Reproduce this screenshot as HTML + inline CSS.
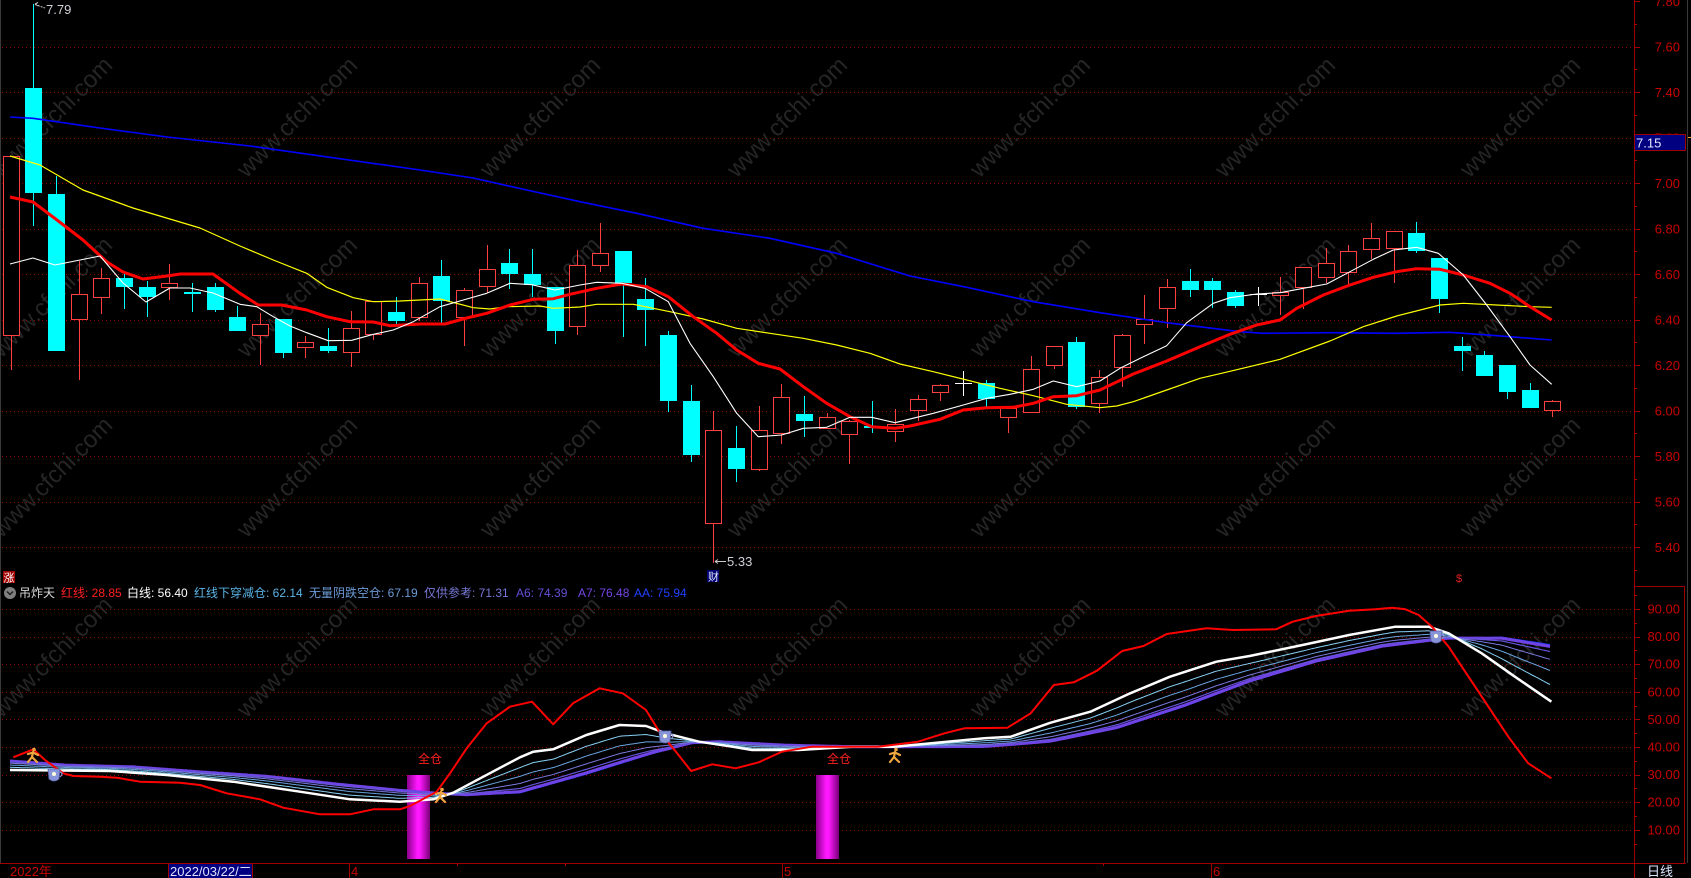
<!DOCTYPE html>
<html><head><meta charset="utf-8">
<style>
html,body{margin:0;padding:0;background:#000;width:1691px;height:878px;overflow:hidden}
svg{display:block}
text{font-family:"Liberation Sans","Noto Sans CJK SC",sans-serif}
</style></head><body>
<svg id="c" xmlns="http://www.w3.org/2000/svg" width="1691" height="878" viewBox="0 0 1691 878">
<defs>
<linearGradient id="mg" x1="0" x2="1" y1="0" y2="0">
<stop offset="0" stop-color="#8a008a"/><stop offset="0.45" stop-color="#ff18ff"/><stop offset="0.55" stop-color="#ff18ff"/><stop offset="1" stop-color="#780078"/>
</linearGradient>
</defs>
<rect width="1691" height="878" fill="#000"/>
<g id="wm"></g>
<g id="grid"></g>
<g id="cand"></g>
<g id="ma" fill="none" stroke-linejoin="round">
<polyline stroke="#0000ff" stroke-width="1.6" points="10,117 33,118.3 100,128 167,137 250,146 420,170 473,178 526.7,190 580,201.7 636.7,213.3 703.3,228.3 770,238.3 836.7,253.3 910,276 966.7,287.3 1033.3,301.7 1100,312.7 1166.7,322.7 1240,331.7 1263.3,333.3 1330,332.7 1396.7,333.3 1450,332.3 1496.7,335.7 1530,338.3 1551.7,340"/>
<polyline stroke="#ffff00" stroke-width="1.2" points="10,156 40,165 83,190 133,208 200,228 240,246 273.3,260 306.7,273.3 326.7,287.3 353.3,297.7 373.3,301.7 400,301 440,299 473.3,307.7 490,309 506.7,306.7 540,306 553.3,308.3 580,307 596.7,304.3 633.3,304.3 670,311.7 703.3,319 736.7,328.3 770,333.3 803.3,338.3 836.7,345 870,353.3 900,364 933.3,371.7 966.7,380 1000,388.3 1033.3,395.7 1066.7,404.3 1100,407.7 1116.7,406 1133.3,401.7 1166.7,390 1200,378.3 1230,371.3 1280,359.3 1330,341 1363.3,326.7 1396.7,316 1440,305 1463.3,303.3 1496.7,305 1530,306.7 1551.7,307.3"/>
<polyline stroke="#ff0000" stroke-width="3" points="10,197 33,202 57,220 83,240 107,262 123,272 143,279 167,276 180,274 213,274 240,293.3 258.3,305 281.7,305 306.7,310 326.7,316.7 350,321.7 373.3,322 390,325.7 420,324 445,324 466.7,318 486.7,313.3 510,305 533.3,299.3 553.3,298.7 570,294.3 596.7,288.3 621.7,284 646.7,286.7 668.3,296.7 693.3,316.7 716.7,333.3 736.7,350 758.3,363.3 780,369 803.3,386.7 826.7,403.3 850,416.7 871.7,426.7 895,428.3 910,426 940,419.3 963.3,410 986.7,407.7 1013.3,407.3 1033.3,403.3 1053.3,396.7 1076.7,395.7 1100,390 1133.3,374 1166.7,361 1200,346.7 1230,334.3 1256.7,325 1280,320 1296.7,308.3 1323.3,295 1350,285 1373.3,277.3 1396.7,271.7 1416.7,268.7 1440,269.3 1463.3,275 1490,283.3 1510,293.3 1530,306.7 1551.7,320"/>
<polyline stroke="#ffffff" stroke-width="1.1" points="10,264 33,258 55,265 80,260 100,256 123,283 146,302 170,288 190,288 213,293 240,304.3 256.7,306.7 273.3,316.7 290,326 306.7,332.7 328.3,340.7 351.7,340.3 373.3,334.3 393.3,330 413.3,321.7 440,306.7 463.3,300 486.7,293.3 510,283.3 531.7,284.7 555,290 580,285 596.7,282.3 621.7,283.3 645,288.3 668.3,301.7 690,343.3 713.3,376.7 736.7,413.3 758.3,436.7 781.7,435 803.3,428.3 826.7,427.3 850,417.3 871.7,417.3 895,422.7 933.3,413.3 963.3,405 986.7,398.3 1010,394.3 1033.3,389.3 1053.3,381 1076.7,386.7 1100,381 1120,368.3 1143.3,356.7 1166.7,345.7 1186.7,322.7 1213.3,303.3 1230,297.7 1256.7,294 1280,292.7 1303.3,288.3 1326.7,284 1350,271.7 1373.3,259.3 1393.3,250 1416.7,247.3 1438.3,253.3 1463.3,275 1486.7,305 1510,336.7 1530,365 1551.7,384.3"/>
</g>
<!-- price annotations -->
<line x1="35" y1="4.5" x2="45" y2="8" stroke="#c8c8c8" stroke-width="1" stroke-dasharray="2 1"/>
<path d="M35,4 l3,-1.5 M35,4 l3,2" stroke="#c8c8c8" stroke-width="1" fill="none"/>
<text x="46" y="14" font-size="13" fill="#d0d0d8">7.79</text>
<line x1="715" y1="561.5" x2="726" y2="561.5" stroke="#c8c8c8" stroke-width="1"/>
<path d="M715,561.5 l3,-2 M715,561.5 l3,2" stroke="#c8c8c8" stroke-width="1" fill="none"/>
<text x="727" y="566" font-size="13" fill="#d0d0d8">5.33</text>
<rect x="707" y="570" width="12" height="12" fill="#000070"/>
<text x="708" y="580.5" font-size="11" fill="#e0e8ff">财</text>
<text x="1456" y="582" font-size="11" fill="#e02020">$</text>
<rect x="3" y="571" width="12" height="12" fill="#a00000"/>
<text x="3.5" y="581.5" font-size="11" fill="#ffffff">涨</text>

<!-- indicator title -->
<circle cx="10" cy="593" r="6" fill="#808080"/>
<path d="M7,591.5 L10,594.5 L13,591.5" stroke="#202020" stroke-width="1.5" fill="none"/>
<g font-size="12">
<text x="19" y="597" fill="#d8d8d8">吊炸天</text>
<text x="61" y="597" fill="#ff2020">红线: 28.85</text>
<text x="127" y="597" fill="#ffffff">白线: 56.40</text>
<text x="194" y="597" fill="#5ab4e6">红线下穿减仓: 62.14</text>
<text x="309" y="597" fill="#6a9ad6">无量阴跌空仓: 67.19</text>
<text x="424" y="597" fill="#7878d8">仅供参考: 71.31</text>
<text x="516" y="597" fill="#6450d8">A6: 74.39</text>
<text x="578" y="597" fill="#7446e6">A7: 76.48</text>
<text x="634" y="597" fill="#2040ff">AA: 75.94</text>
</g>

<!-- magenta bars -->
<rect x="407" y="775" width="23" height="84" fill="url(#mg)"/>
<rect x="816" y="775" width="23" height="84" fill="url(#mg)"/>
<g id="ind" fill="none" stroke-linejoin="round"></g>
<g id="icons"></g>
<g font-size="12" fill="#ff2020">
<text x="418" y="763">全仓</text>
<text x="827" y="763">全仓</text>
</g>

<!-- axes -->
<line x1="1634.5" y1="0" x2="1634.5" y2="878" stroke="#a00000" stroke-width="1"/>
<line x1="1687.5" y1="0" x2="1687.5" y2="863" stroke="#3a3a3a" stroke-width="1"/>
<line x1="0.5" y1="0" x2="0.5" y2="863" stroke="#3a3a3a" stroke-width="1"/>
<line x1="0" y1="863.5" x2="1686" y2="863.5" stroke="#a00000" stroke-width="1"/>
<rect x="1634.5" y="586.5" width="50" height="277" fill="none" stroke="#a00000" stroke-width="1"/>
<g id="axis"></g>
<rect x="1634.5" y="134.5" width="51" height="16" fill="#000080" stroke="#a00000" stroke-width="1"/>
<text x="1636" y="147.5" font-size="13" fill="#e8e8ff">7.15</text>
<line x1="1688" y1="137.5" x2="1691" y2="137.5" stroke="#f0a030" stroke-width="1"/>

<!-- date axis -->
<g font-size="13" fill="#c80000">
<text x="10" y="876">2022年</text>
<text x="351" y="876">4</text>
<text x="784" y="876">5</text>
<text x="1213" y="876">6</text>
</g>
<g stroke="#a00000" stroke-width="1">
<line x1="349.5" y1="863" x2="349.5" y2="878"/>
<line x1="782.5" y1="863" x2="782.5" y2="878"/>
<line x1="1211.5" y1="863" x2="1211.5" y2="878"/>
<line x1="457.5" y1="863" x2="457.5" y2="866"/>
<line x1="565.5" y1="863" x2="565.5" y2="866"/>
<line x1="1103.5" y1="863" x2="1103.5" y2="866"/>
</g>
<rect x="168.5" y="863.5" width="84" height="15" fill="#000080" stroke="#a00000" stroke-width="1"/>
<text x="170" y="876" font-size="13" fill="#e0e0ff">2022/03/22/二</text>
<text x="1647" y="876" font-size="13" fill="#d8e4ff">日线</text>
</svg>
<script>
(function(){
const S=document.getElementById('c');
const NS='http://www.w3.org/2000/svg';
function E(t,a,p){const e=document.createElementNS(NS,t);for(const k in a)e.setAttribute(k,a[k]);(p||S).appendChild(e);return e;}
function T(x,y,s,a,p){const e=E('text',Object.assign({x:x,y:y},a),p);e.textContent=s;return e;}

// watermark
const wm=document.getElementById('wm');
[52,297,540,787,1030,1275,1520].forEach(cx=>[117,297,477,657].forEach(cy=>{
  T(cx,cy+8,'www.cfchi.com',{'font-size':24,fill:'#252525','text-anchor':'middle',transform:'rotate(-45 '+cx+' '+cy+')'},wm);
}));

// grid
const g=document.getElementById('grid');
for(let i=1;i<=12;i++){const y=Math.round(1+i*45.5)+0.5;E('line',{x1:2,y1:y,x2:1633,y2:y,stroke:'#8b0000','stroke-width':1,'stroke-dasharray':'1 3'},g);}
for(let v=90;v>=10;v-=10){const y=Math.round(609+(90-v)*2.76)+0.5;E('line',{x1:2,y1:y,x2:1633,y2:y,stroke:'#8b0000','stroke-width':1,'stroke-dasharray':'1 3'},g);}

// axis ticks & labels
const ax=document.getElementById('axis');
for(let i=0;i<=25;i++){const y=1+i*22.75;if(y>580)break;const yy=Math.round(y)+0.5;
  E('line',{x1:1634,y1:yy,x2:i%2==0?1640:1637,y2:yy,stroke:'#a00000','stroke-width':1},ax);
  if(i%2==0){const p=(7.8-i*0.1);T(1680,y+5,p.toFixed(2),{'font-size':13,fill:'#c80000','text-anchor':'end'},ax);}
}
for(let v=95;v>=5;v-=5){const y=609+(90-v)*2.76;if(y<588)continue;const yy=Math.round(y)+0.5;
  E('line',{x1:1634,y1:yy,x2:v%10==0?1640:1637,y2:yy,stroke:'#a00000','stroke-width':1},ax);
  if(v%10==0)T(1680,y+4.5,v.toFixed(2),{'font-size':13,fill:'#c80000','text-anchor':'end'},ax);
}

// candles
const C=[
['R',156,335,156,370],['C',88,193,4,225.7],['C',194,350.7,175.7,350.7],['R',294,319,261,380],['R',278,297,268,314],
['C',278,287,273,309],['C',287,297,281,317],['R',283,287,264,300],['C',292,294,283,312],['C',287,310,283,312],
['C',317,330.7,306,330.7],['R',324,335,312.7,365],['C',319,353,319,357.7],['R',342,346.7,335.7,357.7],['C',346,351,327.7,352.7],
['R',328.3,351.7,311,366.7],['R',301,333.7,301,340],['C',312,320.7,297,325],['R',283.3,317.3,277,320.7],['C',276,300.7,260,322.7],
['R',290.3,317.3,288,345.7],['R',269.3,285.7,245,293.3],['C',263,273.7,249,289.3],['C',274,284.7,249,297.3],['C',287.3,330.7,287.3,343.7],
['R',265.3,326.3,250,334.7],['R',253.3,265.3,222.7,271.7],['C',251,283.3,251,336.7],['C',299,309.7,278,345.7],['C',335,400.7,331,411.7],
['C',400.7,455,385,461.7],['R',430.3,523.3,411,563],['C',448,468.7,426,481.7],['R',430.3,469.3,406,471],['R',396.7,433.3,384,444],
['C',414,420.7,396,436.7],['R',417.3,428.3,413.3,428.3],['R',421,433.7,420,464],['C',426,427.7,401,432.7],['R',424.3,430.7,409.3,441.7],
['R',399.3,410.3,395,420.7],['R',385.3,392.3,384,400.7],['W',382.7,382.7,371,396],['C',383.3,399,380,406.7],['R',407.7,417.3,407.7,432.7],
['R',369.3,412.3,356,412],['R',346.3,365.3,346.3,369],['C',342,407.3,336.7,409.3],['R',376.7,403.3,370,413.3],['R',335.3,367.3,334,386.7],
['R',319.3,324.3,295,343.7],['R',287.3,308.3,279,327.7],['C',281,289.7,269,296.7],['C',281,289.7,278,307.7],['C',292.3,305.7,290,307.7],
['W',294,294,287.3,305.7],['R',292.3,294.7,277.3,314.7],['R',267.3,287.3,267.3,309.3],['R',263.3,276.7,248,283.3],['R',251.3,272.3,245.3,285],
['R',238.3,249.3,223,259.3],['R',231.3,247.7,231.3,282.7],['C',233,250.7,222,252.7],['C',258,298.7,258,312.7],['C',346,351,337,370.7],
['C',355,375.7,351,375.7],['C',365,391.7,365,399],['C',390,407.7,382.7,407.7],['R',401,410.3,399.7,416.7]
];
const cg=document.getElementById('cand');
C.forEach((d,i)=>{
  const cx=10.7+i*22.67;const xl=Math.round(cx-8);const xc=xl+8.5;
  const t=Math.round(d[1]),b=Math.round(d[2]),h=Math.round(d[3]),l=Math.round(d[4]);
  if(d[0]=='C'){
    if(l>h)E('line',{x1:xc,y1:h,x2:xc,y2:l,stroke:'#00ffff','stroke-width':1},cg);
    E('rect',{x:xl,y:t,width:17,height:Math.max(b-t,2),fill:'#00ffff'},cg);
  }else if(d[0]=='R'){
    const col='#ff4040';
    if(h<t)E('line',{x1:xc,y1:h,x2:xc,y2:t,stroke:col,'stroke-width':1},cg);
    if(l>b)E('line',{x1:xc,y1:b,x2:xc,y2:l,stroke:col,'stroke-width':1},cg);
    E('rect',{x:xl+0.5,y:t+0.5,width:16,height:Math.max(b-t,2),fill:'#000',stroke:col,'stroke-width':1},cg);
  }else{
    E('line',{x1:xc,y1:h,x2:xc,y2:l,stroke:'#ffffff','stroke-width':1},cg);
    E('line',{x1:xl,y1:t+0.5,x2:xl+17,y2:t+0.5,stroke:'#ffffff','stroke-width':1},cg);
  }
});

// indicator
const R=[[13.3,757.3],[33.3,749.3],[45,760],[63.3,773.3],[73.3,776],[100,776.7],[116.7,777.7],[140,781.7],[180,782.7],[200,785],[226.7,793.3],[260,799.3],[283.3,807.7],[320,814.3],[350,814.3],[373.3,809.3],[400,809.3],[410,806],[436.7,791.7],[450,773.3],[466.7,748.3],[486.7,723.3],[510,706.7],[532,701.7],[553.2,724.3],[573,703.3],[599.6,688.3],[622.8,693.3],[646,710],[659.3,731.7],[675.9,751.7],[691.1,771],[712.3,764.3],[735.6,768.3],[758.8,762.3],[782,751.7],[811.8,746.7],[838.4,746.7],[878.2,746.7],[918,741.7],[944.5,733.3],[964.4,728.3],[1007.5,727.7],[1030.7,713.3],[1053.9,685],[1073.8,682.3],[1097,670.7],[1122.2,651],[1143.5,646],[1166.7,634],[1206.5,628.3],[1233,630],[1276.1,629.3],[1292.7,621.7],[1315.9,616],[1349.1,610.7],[1375.6,609.3],[1392.2,607.7],[1405.4,609.3],[1418.7,615],[1432,626.7],[1448.6,646.7],[1468.5,676.7],[1488.4,706.7],[1508.3,736.7],[1528.2,763.3],[1551.4,778.3]];
const W=[[10,770],[110,771],[166.7,775],[233.3,781.7],[300,791.7],[350,799.3],[400,801.7],[433.3,799.3],[453.3,792.7],[483.3,776.7],[520,757.3],[533.3,751.7],[553.2,749.3],[586.3,735],[619.5,725],[646,726],[665.9,733.3],[699.1,741.7],[732.2,746.7],[752.1,750],[798.6,750],[851.6,746.7],[894.7,746.7],[931.2,743.3],[984.3,738.3],[1010.8,736.7],[1050.6,722.7],[1090.4,711.7],[1130.2,693.3],[1170,676.7],[1216.4,661.7],[1249.6,656],[1302.6,645],[1349.1,635],[1395.5,626.7],[1428.7,626.7],[1448.6,633.3],[1481.7,653.3],[1514.9,676.7],[1551.4,701.7]];
const B=[[10,760.7],[66.7,765],[133.3,766.7],[200,771.7],[266.7,776],[333.3,783.3],[400,790],[440,793.3],[466.7,795],[520,792.7],[586.3,774],[652.7,753.3],[692.4,742.7],[719,741.7],[785.3,745],[851.6,746.7],[984.3,746.7],[1050.6,741.7],[1116.9,728.3],[1183.3,706.7],[1249.6,681.7],[1315.9,661.7],[1382.2,646.7],[1448.6,638.3],[1501.6,637.3],[1551.4,645]];
function ip(P,x){if(x<=P[0][0])return P[0][1];for(let i=1;i<P.length;i++){if(x<=P[i][0]){const a=P[i-1],b=P[i];return a[1]+(b[1]-a[1])*(x-a[0])/(b[0]-a[0]);}}return P[P.length-1][1];}
const ind=document.getElementById('ind');
function fan(f){let s='';for(let x=10;x<=1551;x+=2){const w=ip(W,x),b=ip(B,x);s+=x+','+(w+(b-w)*f).toFixed(1)+' ';}return s;}
E('polyline',{points:fan(1.0),stroke:'#2038ff','stroke-width':1.5},ind);
E('polyline',{points:fan(0.97),stroke:'#7044e4','stroke-width':3},ind);
E('polyline',{points:fan(0.88),stroke:'#6454d8','stroke-width':1.2},ind);
E('polyline',{points:fan(0.74),stroke:'#7a7ade','stroke-width':1},ind);
E('polyline',{points:fan(0.54),stroke:'#6aa4e0','stroke-width':1},ind);
E('polyline',{points:fan(0.29),stroke:'#88d0f4','stroke-width':1},ind);
E('polyline',{points:W.map(p=>p.join(',')).join(' '),stroke:'#ffffff','stroke-width':2.5},ind);
E('polyline',{points:R.map(p=>p.join(',')).join(' '),stroke:'#ff0000','stroke-width':2},ind);

// icons
const ic=document.getElementById('icons');
function fig(x,y){const gg=E('g',{stroke:'#f2a640','stroke-width':2.2,fill:'none','stroke-linecap':'round'},ic);
  E('circle',{cx:x+1,cy:y-5.5,r:1.8,fill:'#f2a640',stroke:'none'},gg);
  E('path',{d:'M'+(x)+','+(y-3)+' L'+(x-1)+','+(y+2)+' L'+(x-5)+','+(y+7)+' M'+(x-1)+','+(y+2)+' L'+(x+4)+','+(y+7)+' M'+(x-5)+','+(y-1)+' L'+(x)+','+(y-2.5)+' L'+(x+5)+','+(y)},gg);}
fig(33,755);fig(441,795);fig(895,755);
function cup(x,y){const gg=E('g',{},ic);
  E('path',{d:'M'+(x-7)+','+(y-6)+' L'+(x+5)+','+(y-6)+' L'+(x+4)+','+(y+4)+' Q'+(x-1)+','+(y+8)+' '+(x-6)+','+(y+4)+' Z',fill:'#8894d8',stroke:'#5a64b0','stroke-width':0.8},gg);
  E('path',{d:'M'+(x+5)+','+(y-3)+' q4,1 0,5',fill:'none',stroke:'#8894d8','stroke-width':1.2},gg);
  E('circle',{cx:x-1,cy:y-1,r:2,fill:'#ffffe0'},gg);}
cup(55,775);cup(666,737);cup(1437,637);
})();
</script>
</body></html>
